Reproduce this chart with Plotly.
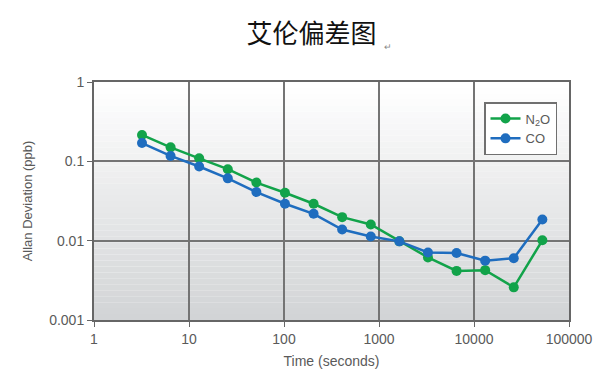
import plotly.graph_objects as go

time_s = [3.2, 6.4, 12.8, 25.6, 51.2, 102.4, 204.8, 409.6, 819.2, 1638.4,
          3276.8, 6553.6, 13107.2, 26214.4, 52428.8]
n2o = [0.215, 0.150, 0.109, 0.0796, 0.054, 0.0402, 0.0292, 0.0198, 0.0160, 0.0098,
       0.00615, 0.00416, 0.00425, 0.00258, 0.0101]
co = [0.170, 0.117, 0.086, 0.061, 0.041, 0.0292, 0.0218, 0.0138, 0.0113, 0.0098,
      0.0071, 0.0070, 0.0056, 0.0060, 0.0185]

x_tickvals = [1, 10, 100, 1000, 10000, 100000]
x_ticktext = ["1", "10", "100", "1000", "10000", "100000"]
y_tickvals = [0.001, 0.01, 0.1, 1]
y_ticktext = ["0.001", "0.01", "0.1", "1"]

GREEN = "#12a34a"
BLUE = "#1f6dbf"
GRAY_TXT = "#5a5a5a"
FONT = "Liberation Sans, Arial, sans-serif"

# the page body has an 8px default margin, so the figure is sized to fit the window
W, H = 607, 381
OFF = 8

fig = go.Figure()
fig.add_trace(go.Scatter(x=time_s, y=n2o, mode="lines+markers", name="N<sub>2</sub>O",
                         line=dict(color=GREEN, width=2.5),
                         marker=dict(color=GREEN, size=10)))
fig.add_trace(go.Scatter(x=time_s, y=co, mode="lines+markers", name="CO",
                         line=dict(color=BLUE, width=2.5),
                         marker=dict(color=BLUE, size=10)))

# vertical gradient background of the plotting area
shapes = []
n = 40
for i in range(n):
    t = i / (n - 1)
    c = int(round(255 - (255 - 210) * t))
    c2 = int(round(255 - (255 - 212) * t))
    c3 = int(round(255 - (255 - 214) * t))
    shapes.append(dict(type="rect", xref="paper", yref="paper",
                       x0=0, x1=1, y0=1 - (i + 1) / n, y1=1 - i / n,
                       fillcolor=f"rgb({c},{c2},{c3})", line=dict(width=0),
                       layer="below"))

ml, mr, mt, mb = 94 - OFF, 46, 82 - OFF, 69
pw = W - ml - mr
ph = H - mt - mb

fig.update_layout(
    width=W, height=H,
    margin=dict(l=ml, r=mr, t=mt, b=mb),
    paper_bgcolor="white",
    plot_bgcolor="white",
    shapes=shapes,
    font=dict(family=FONT, color=GRAY_TXT, size=14),
    title=dict(text="艾伦偏差图", x=(311.5 - OFF) / W, xanchor="center",
               y=1 - (34 - OFF) / H, yanchor="middle",
               font=dict(family="Noto Sans CJK SC", size=26, color="#111111")),
    showlegend=True,
    legend=dict(x=(557 - 94) / pw, y=1 - (102 - 82) / ph, xanchor="right", yanchor="top",
                bgcolor="white", bordercolor="#707070", borderwidth=1.5,
                font=dict(size=13, color=GRAY_TXT), tracegroupgap=0,
                itemwidth=30),
    xaxis=dict(type="log", range=[0, 5], tickvals=x_tickvals, ticktext=x_ticktext,
               automargin=False,
               showgrid=True, gridcolor="#747474", gridwidth=2,
               showline=True, linecolor="#666666", linewidth=2, mirror=True,
               ticks="outside", ticklen=5, tickcolor="#666666",
               tickfont=dict(size=14, color=GRAY_TXT),
               title=dict(text="Time (seconds)", font=dict(size=14, color=GRAY_TXT), standoff=10),
               zeroline=False),
    yaxis=dict(type="log", range=[-3, 0], tickvals=y_tickvals, ticktext=y_ticktext,
               automargin=False,
               showgrid=True, gridcolor="#747474", gridwidth=2,
               showline=True, linecolor="#666666", linewidth=2, mirror=True,
               ticks="outside", ticklen=5, tickcolor="#666666",
               tickfont=dict(size=14, color=GRAY_TXT),
               title=dict(text="Allan Deviation (ppb)", font=dict(size=13, color=GRAY_TXT), standoff=14),
               zeroline=False),
)

fig.add_annotation(text="↵", xref="paper", yref="paper", x=(388 - 94) / pw,
                   y=1 + (82 - 40) / ph, showarrow=False,
                   font=dict(size=9, color="#888888"))

fig.write_html("out.html")
